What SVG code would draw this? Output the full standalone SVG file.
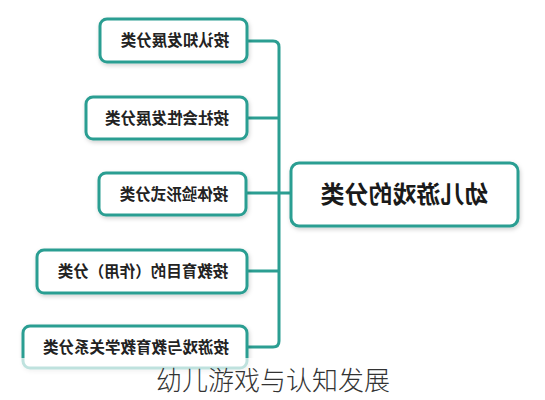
<svg xmlns="http://www.w3.org/2000/svg" width="545" height="400" viewBox="0 0 545 400">
<defs>
<filter id="sh" x="-10%" y="-20%" width="120%" height="150%">
<feDropShadow dx="1" dy="2" stdDeviation="2" flood-color="#000" flood-opacity="0.18"/>
</filter>
<style>
.box{fill:#fff;stroke:#2b9e92;stroke-width:3;filter:url(#sh);}
.lbl{font-family:"Noto Sans CJK SC","Noto Sans",sans-serif;font-weight:bold;font-size:15.5px;fill:#222;text-anchor:middle;}
.root{font-family:"Noto Sans CJK SC","Noto Sans",sans-serif;font-weight:bold;font-size:24px;fill:#1a1a1a;text-anchor:middle;}
.conn{fill:none;stroke:#2b9e92;stroke-width:3;}
.cap{font-family:"Noto Sans CJK SC","Noto Sans",sans-serif;font-weight:300;font-size:26px;fill:#333;text-anchor:middle;}
</style>
</defs>
<rect width="545" height="400" fill="#fff"/>
<g id="connectors">
<path class="conn" d="M247,41 H273 Q279,41 279,47 V341 Q279,347 273,347 H247"/>
<path class="conn" d="M247,118 H279"/>
<path class="conn" d="M246,193 H291"/>
<path class="conn" d="M247,271 H279"/>
</g>
<g id="root">
<rect class="box" x="291" y="163" width="227" height="63" rx="8"/>
<text class="root" x="-404.5" y="203" transform="scale(-1,1)">幼儿游戏的分类</text>
</g>
<g id="n1">
<rect class="box" x="100" y="19" width="147" height="43" rx="7"/>
<text class="lbl" x="-175" y="46" transform="scale(-1,1)">按认知发展分类</text>
</g>
<g id="n2">
<rect class="box" x="86" y="97" width="161" height="42" rx="7"/>
<text class="lbl" x="-167" y="123.5" transform="scale(-1,1)">按社会性发展分类</text>
</g>
<g id="n3">
<rect class="box" x="99" y="173" width="147" height="42" rx="7"/>
<text class="lbl" x="-174" y="199.5" transform="scale(-1,1)">按体验形式分类</text>
</g>
<g id="n4">
<rect class="box" x="37" y="250" width="210" height="43" rx="7"/>
<text class="lbl" x="-143" y="277" transform="scale(-1,1)">按教育目的（作用）分类</text>
</g>
<g id="n5">
<rect class="box" x="23" y="326" width="224" height="42" rx="7"/>
<text class="lbl" x="-136" y="352.5" transform="scale(-1,1)">按游戏与教育教学关系分类</text>
</g>
<rect x="0" y="358" width="545" height="42" fill="#fff" fill-opacity="0.7"/>
<text class="cap" x="273" y="390">幼儿游戏与认知发展</text>
</svg>
